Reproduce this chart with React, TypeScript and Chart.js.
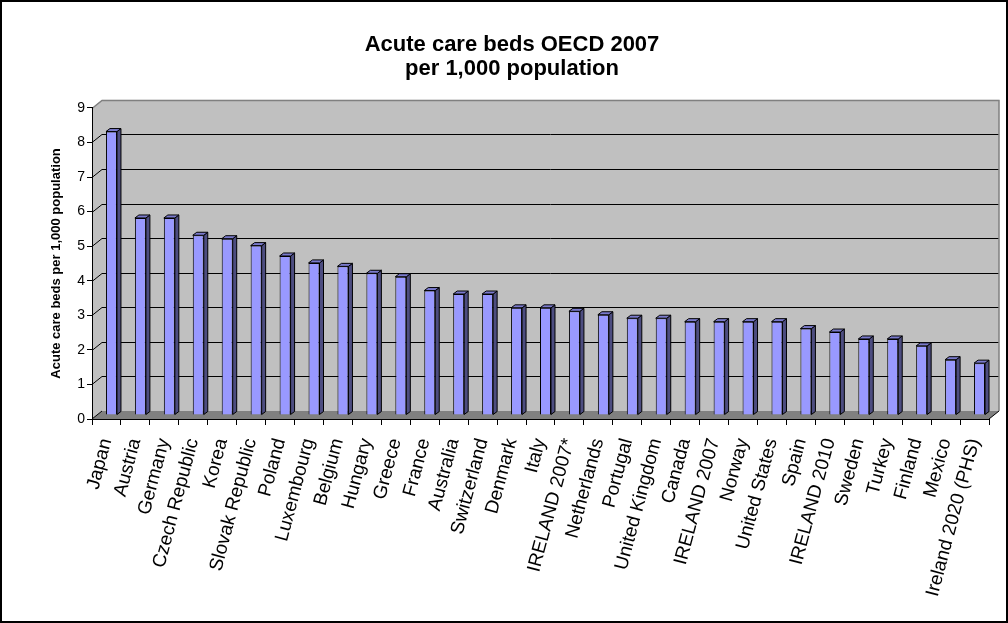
import React, { useEffect, useRef } from 'react';
import { Chart, registerables } from 'chart.js';

Chart.register(...registerables);

const categories = [
  'Japan', 'Austria', 'Germany', 'Czech Republic', 'Korea', 'Slovak Republic', 'Poland',
  'Luxembourg', 'Belgium', 'Hungary', 'Greece', 'France', 'Australia', 'Switzerland',
  'Denmark', 'Italy', 'IRELAND 2007*', 'Netherlands', 'Portugal', 'United Kingdom', 'Canada',
  'IRELAND 2007', 'Norway', 'United States', 'Spain', 'IRELAND 2010', 'Sweden', 'Turkey',
  'Finland', 'Mexico', 'Ireland 2020 (PHS)',
];

const bedsPer1000 = [
  8.2, 5.7, 5.7, 5.2, 5.1, 4.9, 4.6,
  4.4, 4.3, 4.1, 4.0, 3.6, 3.5, 3.5,
  3.1, 3.1, 3.0, 2.9, 2.8, 2.8, 2.7,
  2.7, 2.7, 2.7, 2.5, 2.4, 2.2, 2.2,
  2.0, 1.6, 1.5,
];

const yMin = 0;
const yMax = 9;
const yStep = 1;

const titleLines = ['Acute care beds OECD 2007', 'per 1,000 population'];
const yAxisTitle = 'Acute care beds per 1,000 population';

const FONT = "'Liberation Sans', Arial, sans-serif";
const DX = 10;
const DY = -8;
const BAR_DEPTH_X = 4;
const BAR_DEPTH_Y = -3;

const threeDPlugin = {
  id: 'threeD',
  beforeDraw(chart: any) {
    const { ctx, chartArea: a, scales } = chart;
    const ys = scales.y;
    ctx.save();
    ctx.fillStyle = '#ffffff';
    ctx.fillRect(0, 0, chart.width, chart.height);
    // left side wall
    ctx.fillStyle = '#c0c0c0';
    ctx.beginPath();
    ctx.moveTo(a.left, a.top);
    ctx.lineTo(a.left + DX, a.top + DY);
    ctx.lineTo(a.left + DX, a.bottom + DY);
    ctx.lineTo(a.left, a.bottom);
    ctx.closePath();
    ctx.fill();
    // back wall
    ctx.fillRect(a.left + DX, a.top + DY, a.right - a.left, a.bottom - a.top);
    // floor
    ctx.fillStyle = '#808080';
    ctx.beginPath();
    ctx.moveTo(a.left, a.bottom);
    ctx.lineTo(a.right, a.bottom);
    ctx.lineTo(a.right + DX, a.bottom + DY);
    ctx.lineTo(a.left + DX, a.bottom + DY);
    ctx.closePath();
    ctx.fill();
    // gridlines
    ctx.lineWidth = 1;
    for (let v = yMin + yStep; v < yMax; v += yStep) {
      const py = Math.round(ys.getPixelForValue(v)) + 0.5;
      ctx.strokeStyle = '#000000';
      ctx.beginPath();
      ctx.moveTo(a.left, py);
      ctx.lineTo(a.left + DX, py + DY);
      ctx.lineTo(a.right + DX, py + DY);
      ctx.stroke();
    }
    // wall borders
    ctx.strokeStyle = '#808080';
    ctx.lineWidth = 1.5;
    const topY = Math.round(ys.getPixelForValue(yMax)) + 0.5;
    ctx.beginPath();
    ctx.moveTo(a.left, topY);
    ctx.lineTo(a.left + DX, topY + DY);
    ctx.lineTo(a.right + DX, topY + DY);
    ctx.lineTo(a.right + DX, a.bottom + DY);
    ctx.stroke();
    // floor edges
    ctx.strokeStyle = '#000000';
    ctx.lineWidth = 1;
    ctx.beginPath();
    ctx.moveTo(a.left, a.bottom);
    ctx.lineTo(a.left + DX, a.bottom + DY);
    ctx.moveTo(a.right, a.bottom);
    ctx.lineTo(a.right + DX, a.bottom + DY);
    ctx.stroke();
    ctx.restore();
  },
  beforeDatasetsDraw(chart: any) {
    chart.ctx.save();
    chart.ctx.translate(DX / 2, DY / 2);
  },
  afterDatasetsDraw(chart: any) {
    const { ctx } = chart;
    const meta = chart.getDatasetMeta(0);
    ctx.lineWidth = 1;
    ctx.strokeStyle = '#000000';
    meta.data.forEach((el: any) => {
      const { x, y, base, width } = el.getProps(['x', 'y', 'base', 'width'], true);
      const l = x - width / 2;
      const r = x + width / 2;
      ctx.fillStyle = '#4d4d80';
      ctx.beginPath();
      ctx.moveTo(r, y);
      ctx.lineTo(r + BAR_DEPTH_X, y + BAR_DEPTH_Y);
      ctx.lineTo(r + BAR_DEPTH_X, base + BAR_DEPTH_Y);
      ctx.lineTo(r, base);
      ctx.closePath();
      ctx.fill();
      ctx.stroke();
      ctx.fillStyle = '#7a7acc';
      ctx.beginPath();
      ctx.moveTo(l, y);
      ctx.lineTo(l + BAR_DEPTH_X, y + BAR_DEPTH_Y);
      ctx.lineTo(r + BAR_DEPTH_X, y + BAR_DEPTH_Y);
      ctx.lineTo(r, y);
      ctx.closePath();
      ctx.fill();
      ctx.stroke();
    });
    ctx.restore();
  },
  afterDraw(chart: any) {
    const { ctx } = chart;
    ctx.save();
    ctx.strokeStyle = '#000000';
    ctx.lineWidth = 2;
    ctx.strokeRect(1, 1, chart.width - 2, chart.height - 2);
    ctx.restore();
  },
};

export default function App() {
  const canvasRef = useRef<HTMLCanvasElement | null>(null);

  useEffect(() => {
    if (!canvasRef.current) return;
    const chart = new Chart(canvasRef.current, {
      type: 'bar',
      data: {
        labels: categories,
        datasets: [
          {
            label: 'Acute care beds',
            data: bedsPer1000,
            backgroundColor: '#9999ff',
            borderColor: '#000000',
            borderWidth: 1,
            categoryPercentage: 1,
            barPercentage: 0.38,
          },
        ],
      },
      options: {
        responsive: false,
        animation: false,
        layout: { padding: { left: 35, right: 19, top: 0, bottom: 0 } },
        plugins: {
          legend: { display: false },
          tooltip: { enabled: false },
          title: {
            display: true,
            text: titleLines,
            color: '#000000',
            font: { family: FONT, size: 22, weight: 'bold', lineHeight: 1.1 },
            padding: { top: 33, bottom: 26.5 },
          },
        },
        scales: {
          x: {
            grid: {
              display: true,
              drawOnChartArea: false,
              drawTicks: true,
              tickLength: 6,
              color: '#000000',
              offset: true,
            },
            border: { display: true, color: '#000000', width: 1 },
            ticks: {
              autoSkip: false,
              maxRotation: 75,
              minRotation: 75,
              color: '#000000',
              padding: 11,
              font: { family: FONT, size: 19 },
            },
            afterFit(scale: any) {
              scale.height = 204;
            },
          },
          y: {
            min: yMin,
            max: yMax,
            grid: {
              display: true,
              drawOnChartArea: false,
              drawTicks: true,
              tickLength: 5,
              color: '#000000',
            },
            border: { display: true, color: '#000000', width: 1 },
            ticks: {
              stepSize: yStep,
              color: '#000000',
              padding: 2,
              font: { family: FONT, size: 14 },
            },
            title: {
              display: true,
              text: yAxisTitle,
              color: '#000000',
              font: { family: FONT, size: 13, weight: 'bold' },
              padding: { top: 14, bottom: 0 },
            },
            afterFit(scale: any) {
              scale.width = 57;
            },
          },
        },
      },
      plugins: [threeDPlugin],
    });
    return () => chart.destroy();
  }, []);

  return (
    <div style={{ position: 'fixed', left: 0, top: 0, width: 1008, height: 623, background: '#ffffff' }}>
      <canvas ref={canvasRef} width={1008} height={623} style={{ display: 'block' }} />
    </div>
  );
}
